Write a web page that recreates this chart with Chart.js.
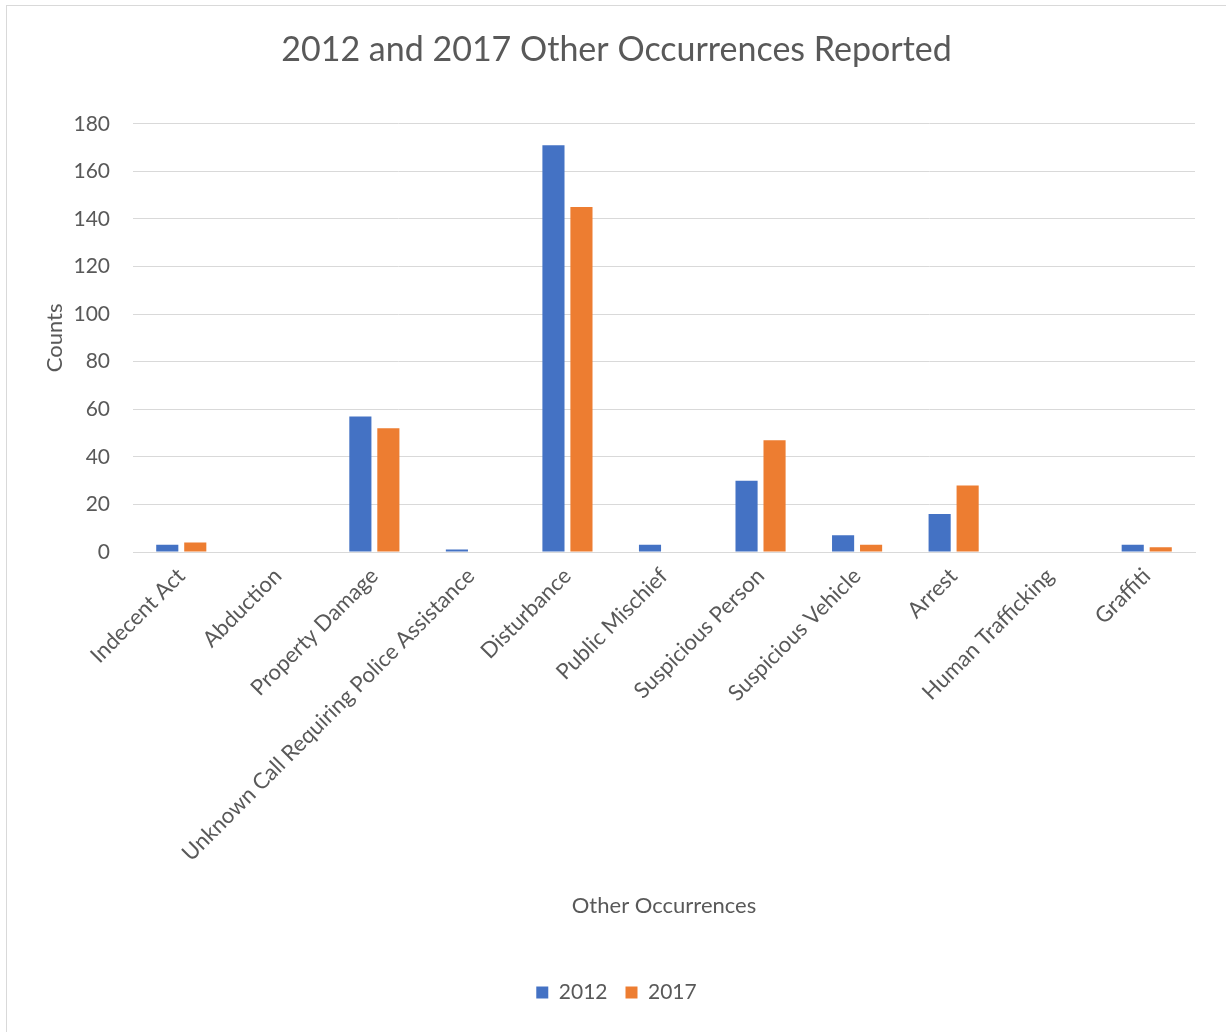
<!DOCTYPE html>
<html>
<head>
<meta charset="utf-8">
<script src="https://cdn.jsdelivr.net/npm/chart.js@4/dist/chart.umd.min.js"></script>
<style>
  html, body { margin: 0; padding: 0; background: #fff; }
  #wrap { position: absolute; left: 0; top: 0; width: 1226px; height: 1032px; }
</style>
</head>
<body>
<div id="wrap"><canvas id="chart" width="1226" height="1032"></canvas></div>
<script>
// categories and counts
const categories = ['Indecent Act', 'Abduction', 'Property Damage', 'Unknown Call Requiring Police Assistance',
    'Disturbance', 'Public Mischief', 'Suspicious Person', 'Suspicious Vehicle', 'Arrest',
    'Human Trafficking', 'Graffiti'];
const counts2012 = [3, 0, 57, 1, 171, 3, 30, 7, 16, 0, 3];
const counts2017 = [4, 0, 52, 0, 145, 0, 47, 3, 28, 0, 2];
const yTicks = [0, 20, 40, 60, 80, 100, 120, 140, 160, 180];

const grey = '#595959';
const font = 'Lato';

// thin frame around the whole chart, like the excel chart border
const frame = {
    id: 'frame',
    beforeDraw(chart) {
        const c = chart.ctx;
        c.save();
        c.fillStyle = '#fff';
        c.fillRect(0, 0, chart.width, chart.height);
        c.strokeStyle = '#d9d9d9';
        c.lineWidth = 1;
        c.strokeRect(6.5, 5.5, 1230, 1040);
        c.restore();
    }
};

new Chart(document.getElementById('chart'), {
    type: 'bar',
    data: {
        labels: categories,
        datasets: [
            { label: '2012', data: counts2012, backgroundColor: '#4472c4' },
            { label: '2017', data: counts2017, backgroundColor: '#ed7d31' }
        ]
    },
    options: {
        responsive: false,
        animation: false,
        layout: { padding: { left: 38, right: 31, top: 10, bottom: 19 } },
        datasets: { bar: { categoryPercentage: 0.58, barPercentage: 0.79 } },
        plugins: {
            title: {
                display: true,
                text: '2012 and 2017 Other Occurrences Reported',
                color: grey,
                font: { family: font, size: 34, weight: 'normal' },
                padding: { top: 20, bottom: 53 }
            },
            legend: {
                position: 'bottom',
                labels: {
                    color: grey,
                    font: { family: font, size: 21 },
                    boxWidth: 12, boxHeight: 12, padding: 18
                }
            },
            tooltip: { enabled: false }
        },
        scales: {
            x: {
                grid: { display: false },
                border: { color: '#d9d9d9' },
                ticks: {
                    color: grey,
                    font: { family: font, size: 22 },
                    minRotation: 45, maxRotation: 45, autoSkip: false
                },
                title: {
                    display: true,
                    text: 'Other Occurrences',
                    color: grey,
                    font: { family: font, size: 22 },
                    padding: { top: 4, bottom: 45 }
                },
                afterFit(scale) { scale.height = 412; }
            },
            y: {
                min: 0, max: 180,
                afterBuildTicks(scale) { scale.ticks = yTicks.map(v => ({ value: v })); },
                grid: { color: '#d9d9d9', drawTicks: false },
                border: { display: false },
                ticks: {
                    color: grey,
                    font: { family: font, size: 21 },
                    padding: 23
                },
                title: {
                    display: true,
                    text: 'Counts',
                    color: grey,
                    font: { family: font, size: 22 }
                },
                afterFit(scale) { scale.width = 95; }
            }
        }
    },
    plugins: [frame]
});
</script>
</body>
</html>
